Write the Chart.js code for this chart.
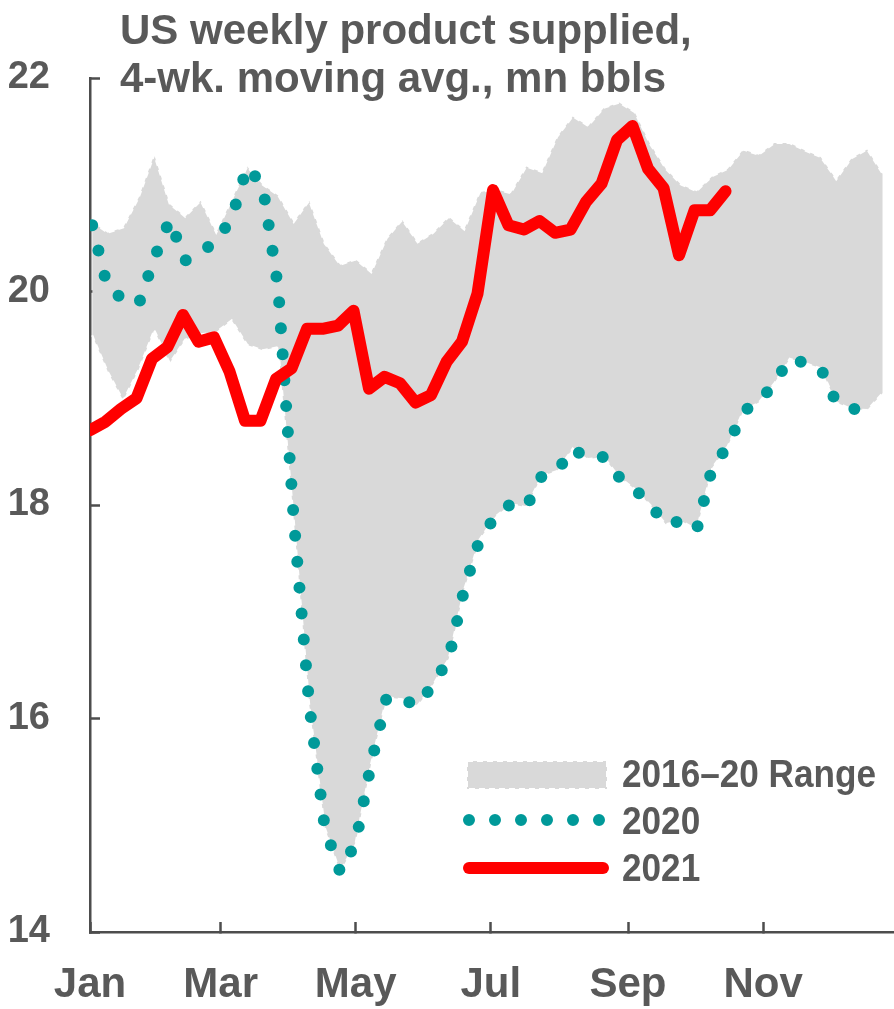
<!DOCTYPE html>
<html>
<head>
<meta charset="utf-8">
<title>US weekly product supplied</title>
<script src="https://cdn.jsdelivr.net/npm/chart.js@4.4.1/dist/chart.umd.min.js"></script>
<style>
  html, body { margin: 0; padding: 0; background: #fff; }
</style>
</head>
<body>
<canvas id="supplied" width="894" height="1009"></canvas>
<script>
// chart text
const titleLines = ['US weekly product supplied,', '4-wk. moving avg., mn bbls'];
const legendLabels = ['2016\u201320 Range', '2020', '2021'];

// x axis: month labels placed at their week position (day of year / 7)
const monthLabels = ['Jan', 'Mar', 'May', 'Jul', 'Sep', 'Nov'];
const monthWeeks = [0, 8.43, 17.14, 25.86, 34.71, 43.43];

// 2016-20 range, upper and lower edge, one value per week
const rangeHigh = [20.65, 20.55, 20.60, 20.88, 21.28, 20.82, 20.70, 20.85, 20.55, 20.86,
  21.17, 21.00, 20.90, 20.65, 20.85, 20.45, 20.25, 20.30, 20.18, 20.50,
  20.67, 20.46, 20.55, 20.70, 20.58, 20.93, 20.96, 20.92, 21.17, 21.12,
  21.45, 21.64, 21.55, 21.72, 21.77, 21.68, 21.38, 21.15, 21.00, 20.94,
  21.08, 21.15, 21.33, 21.28, 21.39, 21.39, 21.32, 21.26, 21.05, 21.25,
  21.33, 21.10];
const rangeLow = [19.59, 19.25, 18.98, 19.27, 19.64, 19.33, 19.55, 19.60, 19.62, 19.73,
  19.50, 19.45, 19.48, 17.87, 16.13, 14.98, 14.56, 14.84, 15.58, 16.20,
  16.18, 16.12, 16.32, 16.56, 17.21, 17.68, 17.89, 18.01, 17.98, 18.27,
  18.32, 18.53, 18.43, 18.45, 18.26, 18.15, 18.00, 17.82, 17.85, 17.77,
  18.35, 18.55, 18.88, 18.96, 19.14, 19.37, 19.33, 19.28, 18.96, 18.90,
  18.89, 19.05];

// 2020 and 2021 weekly values
const y2020 = [20.62, 20.03, 19.93, 19.88, 20.31, 20.67, 20.29, 20.37, 20.47, 20.69,
  21.17, 20.99, 20.03, 17.87, 16.13, 14.98, 14.56, 14.84, 15.58, 16.20,
  16.18, 16.12, 16.32, 16.56, 17.21, 17.68, 17.89, 18.01, 17.98, 18.27,
  18.32, 18.53, 18.43, 18.45, 18.26, 18.15, 18.00, 17.82, 17.85, 17.77,
  18.35, 18.55, 18.88, 18.96, 19.14, 19.37, 19.33, 19.28, 18.96, 18.90,
  18.89];
const y2021 = [18.70, 18.78, 18.90, 19.00, 19.37, 19.48, 19.78, 19.53, 19.57, 19.25,
  18.79, 18.79, 19.18, 19.28, 19.65, 19.65, 19.68, 19.82, 19.09, 19.20,
  19.14, 18.96, 19.03, 19.34, 19.53, 19.98, 20.95, 20.62, 20.58, 20.66,
  20.55, 20.58, 20.84, 21.01, 21.42, 21.55, 21.15, 20.97, 20.34, 20.76,
  20.76, 20.94];

const textGrey = '#595959';
const axisGrey = '#4d4d4d';
const rangeFill = '#d9d9d9';
const teal = '#009999';
const red = '#ff0000';
const fontFamily = "'Liberation Sans', Arial, sans-serif";

// week index -> {x, y}; offset in weeks
const toPoints = (arr, off) => arr.map((v, i) => ({ x: i + off, y: v }));

const titlePlugin = {
  id: 'titleText',
  afterDraw(chart) {
    const ctx = chart.ctx;
    ctx.save();
    ctx.fillStyle = textGrey;
    ctx.font = 'bold 42px ' + fontFamily;
    ctx.textBaseline = 'alphabetic';
    ctx.fillText(titleLines[0], 120, 44);
    ctx.fillText(titleLines[1], 120, 92);
    ctx.restore();
  }
};

const legendPlugin = {
  id: 'boxLegend',
  afterDraw(chart) {
    const ctx = chart.ctx;
    const ds = chart.data.datasets;
    const hi = ds[2], d20 = ds[1], d21 = ds[0];
    ctx.save();
    // range swatch
    ctx.fillStyle = hi.backgroundColor;
    ctx.fillRect(467, 761, 140, 28);
    ctx.strokeStyle = hi.borderColor;
    ctx.lineWidth = hi.borderWidth;
    ctx.setLineDash(hi.borderDash);
    ctx.strokeRect(467, 761, 140, 28);
    // 2020 dotted swatch
    ctx.beginPath();
    ctx.strokeStyle = d20.borderColor;
    ctx.lineWidth = d20.borderWidth;
    ctx.lineCap = 'round';
    ctx.setLineDash(d20.borderDash);
    ctx.moveTo(469, 820);
    ctx.lineTo(603, 820);
    ctx.stroke();
    // 2021 solid swatch
    ctx.beginPath();
    ctx.setLineDash([]);
    ctx.strokeStyle = d21.borderColor;
    ctx.lineWidth = d21.borderWidth;
    ctx.moveTo(469, 868);
    ctx.lineTo(603, 868);
    ctx.stroke();
    // labels, condensed like the narrow face of the original
    ctx.fillStyle = textGrey;
    ctx.font = 'bold 38px ' + fontFamily;
    ctx.textBaseline = 'alphabetic';
    const squeeze = Math.min(1, 254 / ctx.measureText(legendLabels[0]).width);
    [787, 834, 881].forEach((y, i) => {
      ctx.save();
      ctx.translate(622, y);
      ctx.scale(squeeze, 1);
      ctx.fillText(legendLabels[i], 0, 0);
      ctx.restore();
    });
    ctx.restore();
  }
};

new Chart(document.getElementById('supplied'), {
  type: 'line',
  data: {
    datasets: [
      {
        label: legendLabels[2],
        data: toPoints(y2021, 0),
        borderColor: red,
        borderWidth: 12,
        borderCapStyle: 'round',
        borderJoinStyle: 'round',
        pointRadius: 0,
        fill: false,
        order: 1
      },
      {
        label: legendLabels[1],
        data: toPoints(y2020, 1 / 7),
        borderColor: teal,
        borderWidth: 12,
        borderDash: [0, 26],
        borderCapStyle: 'round',
        pointRadius: 0,
        fill: false,
        order: 2
      },
      {
        label: legendLabels[0],
        data: toPoints(rangeHigh, 1 / 7),
        borderColor: '#ffffff',
        backgroundColor: rangeFill,
        borderWidth: 2,
        borderDash: [6, 4],
        pointRadius: 0,
        fill: '+1',
        order: 3
      },
      {
        label: 'range low',
        data: toPoints(rangeLow, 1 / 7),
        borderColor: '#ffffff',
        borderWidth: 2,
        borderDash: [6, 4],
        pointRadius: 0,
        fill: false,
        order: 4
      }
    ]
  },
  options: {
    responsive: false,
    animation: false,
    layout: { padding: { top: 78, right: 0, left: 0, bottom: 0 } },
    plugins: {
      legend: { display: false },
      tooltip: { enabled: false },
      filler: { drawTime: 'beforeDatasetsDraw' }
    },
    elements: { line: { tension: 0 } },
    scales: {
      x: {
        type: 'linear',
        min: 0,
        max: 51.87,
        afterFit(scale) { scale.height = 77; },
        afterBuildTicks(scale) { scale.ticks = monthWeeks.map(v => ({ value: v })); },
        ticks: {
          autoSkip: false,
          maxRotation: 0,
          padding: 38,
          color: textGrey,
          font: { family: fontFamily, size: 42, weight: 'bold' },
          callback: (v, i) => monthLabels[i]
        },
        grid: { drawOnChartArea: false, tickLength: -10, tickWidth: 2.5, tickColor: axisGrey },
        border: { color: axisGrey, width: 2.5 }
      },
      y: {
        min: 14,
        max: 22,
        afterFit(scale) { scale.width = 90; },
        ticks: {
          stepSize: 2,
          padding: 50,
          color: textGrey,
          font: { family: fontFamily, size: 38, weight: 'bold' }
        },
        grid: { drawOnChartArea: false, tickLength: -10, tickWidth: 2.5, tickColor: axisGrey },
        border: { color: axisGrey, width: 2.5 }
      }
    }
  },
  plugins: [titlePlugin, legendPlugin]
});
</script>
</body>
</html>
